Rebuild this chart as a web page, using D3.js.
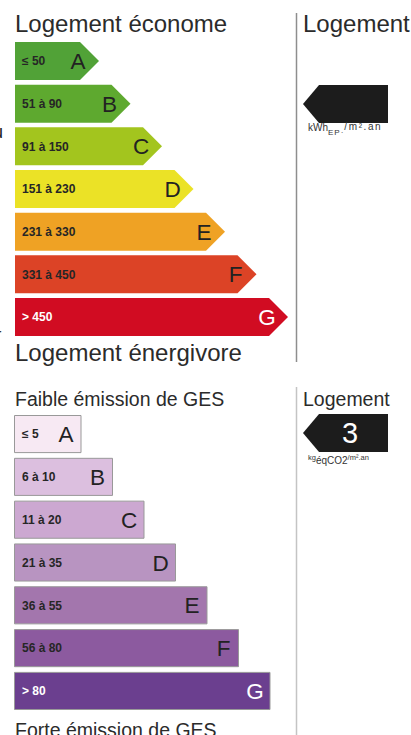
<!DOCTYPE html>
<html>
<head>
<meta charset="utf-8">
<script src="https://cdn.jsdelivr.net/npm/d3@7"></script>
<style>
  body { margin: 0; background: #fff; }
  svg { display: block; font-family: "Liberation Sans", Arial, sans-serif; }
  .title { fill: #2b2b2b; }
  .range { font-weight: bold; }
</style>
</head>
<body>
<svg id="chart" width="411" height="735"></svg>
<script>
// energy label (kWh EP / m².an)
const energyClasses = ["A", "B", "C", "D", "E", "F", "G"];
const energyRanges = ["≤ 50", "51 à 90", "91 à 150", "151 à 230", "231 à 330", "331 à 450", "> 450"];
const energyColors = ["#51a237", "#5ea92f", "#a3c51e", "#ebe226", "#efa224", "#dc4326", "#d10c22"];
const energyValue = "";

// GES label (kg éqCO2 / m².an)
const gesClasses = ["A", "B", "C", "D", "E", "F", "G"];
const gesRanges = ["≤ 5", "6 à 10", "11 à 20", "21 à 35", "36 à 55", "56 à 80", "> 80"];
const gesColors = ["#f7e9f3", "#dcbfdf", "#cca8d1", "#b894c1", "#a376ad", "#8c5a9f", "#6b3f8f"];
const gesValue = "3";

let svg = d3.select("#chart");

// stray clipped glyphs at the left edge (as in the source screenshot)
svg.append("text").attr("x", -7).attr("y", 138).attr("font-size", 18).attr("fill", "#222").text("u");
svg.append("text").attr("x", -4).attr("y", 340).attr("font-size", 16).attr("fill", "#222").text("r");

function drawScale(opt) {
    let g = svg.append("g");
    let y = d3.scaleBand().domain(opt.classes).range([opt.top, opt.bottom]).paddingInner(0.11).paddingOuter(0);
    // x gives the right end (tip) of each bar from its rank
    let x = d3.scaleLinear().domain([0, opt.classes.length - 1]).range(opt.ends);
    let h = y.bandwidth();

    g.append("text").attr("class", "title")
        .attr("x", 15).attr("y", opt.titleY)
        .attr("font-size", opt.titleSize)
        .text(opt.topTitle);

    g.append("text").attr("class", "title")
        .attr("x", 15).attr("y", opt.bottomY)
        .attr("font-size", opt.titleSize)
        .text(opt.bottomTitle);

    let bars = g.selectAll(".bar")
        .data(opt.classes)
        .enter().append("g")
        .attr("class", "bar")
        .attr("transform", d => `translate(0,${y(d)})`);

    bars.append("path")
        .attr("d", (d, i) => {
            let end = x(i);
            if (opt.arrow) {
                let b = end - h / 2;
                return `M15,0 L${b},0 L${end},${h / 2} L${b},${h} L15,${h} Z`;
            }
            return `M14.5,0.5 L${end},0.5 L${end},${h - 0.5} L14.5,${h - 0.5} Z`;
        })
        .attr("fill", (d, i) => opt.colors[i])
        .attr("stroke", opt.arrow ? "none" : "#999")
        .attr("stroke-width", 1);

    bars.append("text").attr("class", "range")
        .attr("x", 22).attr("y", h / 2).attr("dy", "0.36em")
        .attr("font-size", 12)
        .attr("fill", (d, i) => i === opt.classes.length - 1 ? "#fff" : "#262626")
        .text((d, i) => opt.ranges[i]);

    bars.append("text")
        .attr("x", (d, i) => x(i) - opt.letterOff)
        .attr("y", h / 2).attr("dy", "0.36em")
        .attr("text-anchor", "middle")
        .attr("font-size", 22.5)
        .attr("fill", (d, i) => i === opt.classes.length - 1 ? "#fff" : "#222")
        .text(d => d);

    // divider
    g.append("line")
        .attr("x1", 296.5).attr("x2", 296.5)
        .attr("y1", opt.lineTop).attr("y2", opt.lineBottom)
        .attr("stroke", opt.lineColor).attr("stroke-width", 1.5);

    // right column
    g.append("text").attr("class", "title")
        .attr("x", 303).attr("y", opt.titleY)
        .attr("font-size", opt.titleSize)
        .text("Logement");

    let ay = opt.markerTop;
    g.append("path")
        .attr("d", `M303,${ay + h / 2} L${303 + 16},${ay} L388,${ay} L388,${ay + h} L${303 + 16},${ay + h} Z`)
        .attr("fill", "#1c1c1c");

    g.append("text")
        .attr("x", 350).attr("y", ay + h / 2).attr("dy", "0.36em")
        .attr("text-anchor", "middle")
        .attr("font-size", 29)
        .attr("fill", "#fff")
        .text(opt.value);

    let u = g.append("text")
        .attr("x", 308).attr("y", opt.unitY)
        .attr("fill", "#333");
    opt.unit(u);
}

drawScale({
    classes: energyClasses, ranges: energyRanges, colors: energyColors, value: energyValue,
    top: 42, bottom: 336, ends: [99, 288], arrow: true, letterOff: 21,
    topTitle: "Logement économe", bottomTitle: "Logement énergivore",
    titleY: 32, bottomY: 361, titleSize: 24,
    lineTop: 13, lineBottom: 362, lineColor: "#8e8e8e",
    markerTop: 85, unitY: 131,
    unit: t => {
        t.append("tspan").attr("font-size", 10).text("kWh");
        t.append("tspan").attr("font-size", 8).attr("dy", 4).attr("letter-spacing", 1).text("EP·");
        t.append("tspan").attr("font-size", 10).attr("dy", -5).attr("letter-spacing", 1.6).text("/m².an");
    }
});

drawScale({
    classes: gesClasses, ranges: gesRanges, colors: gesColors, value: gesValue,
    top: 415, bottom: 710, ends: [81, 270], arrow: false, letterOff: 15,
    topTitle: "Faible émission de GES", bottomTitle: "Forte émission de GES",
    titleY: 406, bottomY: 737, titleSize: 19.5,
    lineTop: 387, lineBottom: 735, lineColor: "#c4c4c4",
    markerTop: 414, unitY: 464,
    unit: t => {
        t.append("tspan").attr("font-size", 7.5).attr("dy", -4).text("kg");
        t.append("tspan").attr("font-size", 10).attr("dy", 4).text("éqCO2");
        t.append("tspan").attr("font-size", 7.5).attr("dy", -4).text("/m².an");
    }
});
</script>
</body>
</html>
